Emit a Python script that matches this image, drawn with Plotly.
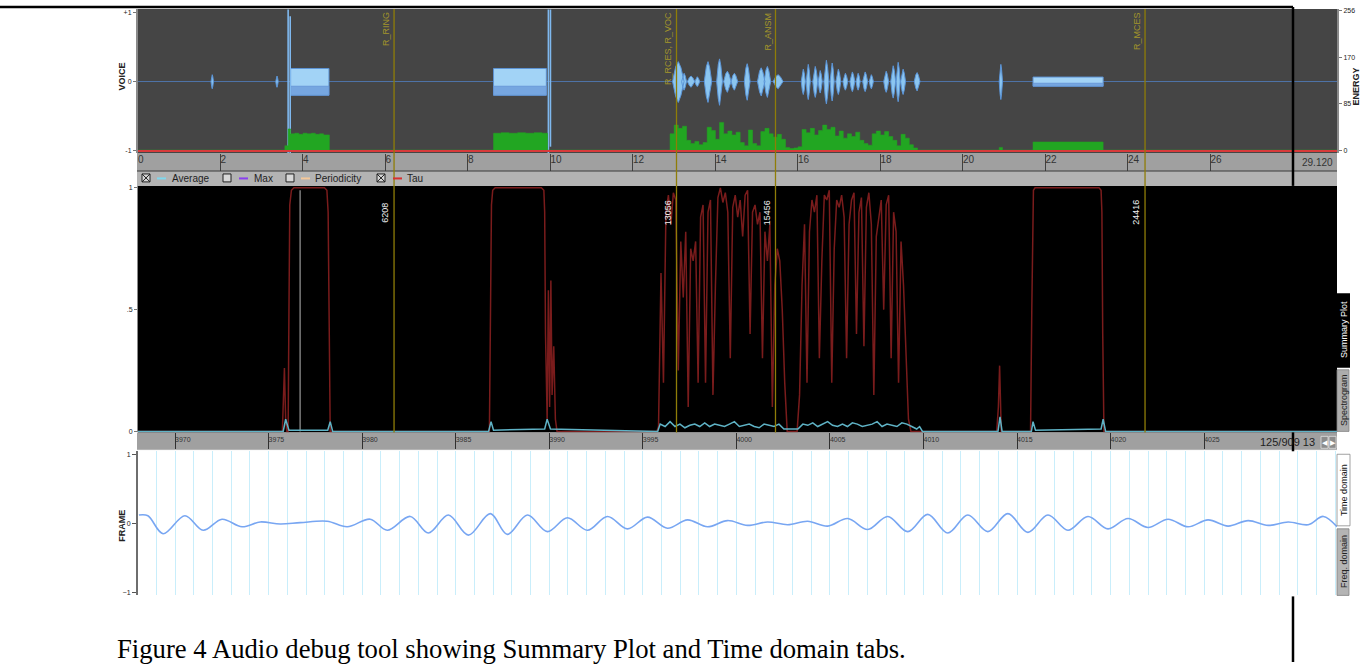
import plotly.graph_objects as go

W, H = 1367, 664
def PX(x): return x / W
def PY(y): return 1 - y / H

# ---------------- data ----------------
DURATION = 29.12
time_ticks = [0, 2, 4, 6, 8, 10, 12, 14, 16, 18, 20, 22, 24, 26]
frame_ticks = [3970, 3975, 3980, 3985, 3990, 3995, 4000, 4005, 4010, 4015, 4020, 4025]
frame_range = [3968.02, 4032.1]

marker_times = [6.208, 13.056, 15.456, 24.416]
marker_names = ["R_RING", "R_RCES, R_VOC", "R_ANSM", "R_MCES"]
marker_ids = ["6208", "13056", "15456", "24416"]

voice_ticks = [-1, 0, 1]
voice_tick_text = ["-1", "0", "+1"]
energy_ticks = [0, 85, 170, 256]
tau_ticks = [0, 0.5, 1]
tau_tick_text = ["0", ".5", "1"]
frame_y_ticks = [-1, 0, 1]

# voice: steady tones
tone_start = [3.70, 8.62, 21.70]
tone_end = [4.63, 9.90, 23.40]
tone_amp = [0.19, 0.19, 0.065]

# voice: clicks
spike_t = [3.64, 3.69, 9.95, 10.00]
spike_hi = [1.05, 0.95, 1.05, 1.05]
spike_lo = [-1.05, -1.05, -1.05, -0.95]

# voice: speech bursts (centre, half width, peak)
burst_t = [13.10, 13.24, 13.41, 13.56, 13.82, 14.10, 14.29, 14.46, 14.77, 15.11, 15.26, 15.52,
           16.13, 16.25, 16.42, 16.54, 16.69, 16.83, 16.98, 17.15, 17.32, 17.46, 17.63, 17.78,
           18.14, 18.31, 18.43, 18.55, 18.89, 20.92, 1.80, 3.37]
burst_hw = [0.14, 0.06, 0.09, 0.06, 0.09, 0.07, 0.09, 0.08, 0.07, 0.09, 0.08, 0.12,
            0.05, 0.05, 0.06, 0.05, 0.06, 0.05, 0.06, 0.06, 0.06, 0.05, 0.06, 0.05,
            0.06, 0.06, 0.05, 0.06, 0.07, 0.04, 0.03, 0.03]
burst_amp = [0.29, 0.12, 0.08, 0.07, 0.29, 0.33, 0.15, 0.12, 0.26, 0.20, 0.22, 0.10,
             0.18, 0.25, 0.22, 0.16, 0.31, 0.27, 0.18, 0.12, 0.14, 0.12, 0.14, 0.10,
             0.15, 0.23, 0.28, 0.18, 0.13, 0.25, 0.10, 0.08]

# energy (step series)
energy_t = [0.0, 3.56, 3.64, 3.70, 3.80, 3.90, 4.00, 4.10, 4.20, 4.30, 4.40, 4.50, 4.64,
            8.62, 8.80, 9.00, 9.20, 9.40, 9.60, 9.80, 9.93,
            12.9, 13.0, 13.1, 13.2, 13.3, 13.4, 13.5, 13.6, 13.7, 13.8, 13.9, 14.0, 14.1, 14.2,
            14.3, 14.4, 14.5, 14.6, 14.7, 14.8, 14.9, 15.0, 15.1, 15.2, 15.3, 15.4, 15.5, 15.6,
            15.7, 15.8, 15.9, 16.0, 16.1, 16.2, 16.3, 16.4, 16.5, 16.6, 16.7, 16.8, 16.9, 17.0,
            17.1, 17.2, 17.3, 17.4, 17.5, 17.6, 17.7, 17.8, 17.9, 18.0, 18.1, 18.2, 18.3, 18.4,
            18.5, 18.6, 18.7, 18.8, 18.9,
            20.88, 20.96, 21.70, 23.40, 29.12]
energy_v = [0, 8, 39, 30, 31, 29, 31, 30, 31, 29, 30, 28, 0,
            31, 32, 31, 32, 31, 32, 31, 0,
            30, 46, 40, 44, 18, 12, 16, 10, 14, 42, 36, 20, 51, 30,
            35, 28, 33, 14, 8, 37, 12, 8, 34, 40, 30, 24, 29, 20,
            5, 3, 4, 6, 38, 32, 40, 28, 36, 46, 38, 42, 26, 35,
            22, 30, 25, 33, 18, 12, 9, 30, 35, 28, 34, 25, 18, 8,
            29, 22, 10, 4, 0,
            5, 0, 15, 0, 0]

# summary plot: tau
tau_t = [0.0, 3.50, 3.55, 3.58, 3.61, 3.64, 3.66, 3.68, 3.72, 3.78, 4.52, 4.58, 4.61, 4.63, 4.66,
         8.52, 8.55, 8.57, 8.60, 8.66, 9.78, 9.84, 9.86, 9.88, 9.92, 9.95, 9.98, 10.01, 10.04, 10.08, 10.12, 10.16,
         12.58]
tau_v = [0.0, 0.0, 0.26, 0.05, 0.0, 0.0, 0.5, 0.93, 0.99, 1.0, 1.0, 0.99, 0.9, 0.4, 0.0,
         0.0, 0.5, 0.93, 0.99, 1.0, 1.0, 0.99, 0.9, 0.4, 0.05, 0.58, 0.1, 0.62, 0.15, 0.35, 0.05, 0.0,
         0.0]
speech1_start, speech_step = 12.62, 0.06
tau_speech1 = [0.02, 0.65, 0.2, 0.9, 0.97, 0.85, 0.98, 0.95, 0.25, 0.78, 0.55, 0.82, 0.1, 0.75,
               0.7, 0.78, 0.2, 0.88, 0.93, 0.2, 0.9, 0.95, 0.15, 0.6, 0.96, 1.0, 0.94, 0.98, 0.9,
               0.3, 0.92, 0.97, 0.88, 0.95, 0.8, 0.97, 0.99, 0.4, 0.9, 0.93, 0.85, 0.9, 0.3, 0.82,
               0.7, 0.85, 0.1, 0.6, 0.75, 0.7, 0.5, 0.2, 0.0]
speech2_start = 15.98
tau_speech2 = [0.0, 0.15, 0.6, 0.85, 0.2, 0.82, 0.95, 0.9, 0.97, 0.3, 0.7, 0.97, 0.95, 0.99,
               0.2, 0.75, 0.95, 0.92, 0.97, 0.88, 0.3, 0.85, 0.95, 0.98, 0.4, 0.9, 0.96, 0.35,
               0.92, 0.98, 0.85, 0.15, 0.8, 0.88, 0.95, 0.5, 0.93, 0.97, 0.3, 0.9, 0.82, 0.2,
               0.78, 0.6, 0.35, 0.05, 0.0]
tau_tail_t = [20.82, 20.86, 20.89, 20.93, 21.64, 21.67, 21.69, 21.71, 21.75, 21.80,
              23.30, 23.35, 23.37, 23.39, 23.42, 29.12]
tau_tail_v = [0.0, 0.1, 0.27, 0.0, 0.0, 0.5, 0.93, 0.99, 1.0, 1.0,
              1.0, 0.99, 0.9, 0.4, 0.0, 0.0]

# summary plot: average
avg_t = [0.0, 3.52, 3.58, 3.66, 4.60, 4.66, 4.72, 8.50, 8.56, 8.62, 9.86, 9.92, 10.0, 12.60]
avg_v = [0.0, 0.0, 0.05, 0.005, 0.005, 0.04, 0.0, 0.0, 0.04, 0.005, 0.01, 0.05, 0.01, 0.0]
avg1_start, avg_step = 12.66, 0.12
avg_speech1 = [0.03, 0.02, 0.04, 0.02, 0.03, 0.015, 0.025, 0.03, 0.02, 0.035, 0.02, 0.03, 0.025,
               0.02, 0.03, 0.04, 0.02, 0.025, 0.03, 0.02, 0.015, 0.03, 0.025, 0.02, 0.03, 0.01]
avg2_start = 16.0
avg_speech2 = [0.01, 0.03, 0.025, 0.035, 0.02, 0.03, 0.04, 0.025, 0.02, 0.03, 0.02, 0.035, 0.03,
               0.02, 0.025, 0.03, 0.04, 0.02, 0.03, 0.025, 0.02, 0.035, 0.03, 0.02, 0.01]
avg_tail_t = [18.95, 19.02, 20.85, 20.90, 20.95, 21.66, 21.70, 21.76, 23.35, 23.40, 23.46, 29.12]
avg_tail_v = [0.02, 0.0, 0.0, 0.06, 0.0, 0.0, 0.04, 0.005, 0.01, 0.05, 0.0, 0.0]
cursor_t = 3.93

# time-domain frame
frame_pos = [3968.07, 3968.55, 3969.36, 3970.53, 3971.50, 3972.51, 3973.58, 3974.55, 3975.62, 3976.69,
             3978.13, 3979.20, 3980.43, 3981.34, 3982.57, 3983.54, 3984.61, 3985.68, 3986.85, 3987.76,
             3988.83, 3989.90, 3990.97, 3992.04, 3993.11, 3994.18, 3995.25, 3996.32, 3997.39, 3998.46,
             3999.53, 4000.60, 4001.67, 4002.74, 4003.81, 4004.88, 4005.95, 4007.02, 4008.09, 4009.16,
             4010.23, 4011.30, 4012.37, 4013.44, 4014.51, 4015.58, 4016.65, 4017.72, 4018.79, 4019.86,
             4020.93, 4022.00, 4023.07, 4024.14, 4025.21, 4026.28, 4027.35, 4028.42, 4029.49, 4030.56,
             4031.37, 4032.10]
frame_val = [0.12, 0.11, -0.15, 0.11, -0.10, 0.06, -0.05, 0.02, -0.01, 0.01,
             0.03, -0.05, 0.06, -0.10, 0.10, -0.14, 0.12, -0.17, 0.14, -0.16,
             0.12, -0.12, 0.08, -0.10, 0.10, -0.08, 0.09, -0.07, 0.05, -0.05,
             0.04, -0.03, 0.02, -0.02, 0.03, -0.04, 0.07, -0.09, 0.10, -0.12,
             0.13, -0.14, 0.12, -0.12, 0.14, -0.13, 0.12, -0.10, 0.10, -0.08,
             0.07, -0.06, 0.06, -0.05, 0.05, -0.04, 0.04, -0.03, 0.02, -0.02,
             0.10, -0.05]

legend_names = ["Average", "Max", "Periodicity", "Tau"]
legend_colors = ["#7fd8ee", "#8a3ff0", "#f5c89a", "#d83030"]
legend_checked = [True, False, False, True]
tab_names = ["Summary Plot", "Spectrogram", "Time domain", "Freq. domain"]
frame_counter = "125/909 13"
duration_label = "29.120"
caption = "Figure 4 Audio debug tool showing Summary Plot and Time domain tabs."

# ---------------- figure ----------------
fig = go.Figure()
X0, X1 = PX(138), PX(1337)
TRANGE = [0, 29.07]

# voice baseline
fig.add_trace(go.Scatter(x=[0, DURATION], y=[0, 0], mode="lines",
                         line=dict(color="#4f74aa", width=1), xaxis="x", yaxis="y", hoverinfo="skip"))
# speech bursts as spindles
bx, by = [], []
for c, hw, a in zip(burst_t, burst_hw, burst_amp):
    bx += [c - hw, c - hw * 0.45, c, c + hw * 0.45, c + hw, c + hw * 0.45, c, c - hw * 0.45, c - hw, None]
    by += [0, a * 0.75, a, a * 0.7, 0, -a * 0.7, -a * 1.05, -a * 0.75, 0, None]
fig.add_trace(go.Scatter(x=bx, y=by, mode="lines", fill="toself", fillcolor="#8cc6f0",
                         line=dict(color="#5b95d8", width=1), xaxis="x", yaxis="y", hoverinfo="skip"))
# tones (light upper body, darker lower band)
tx, ty, lx, ly = [], [], [], []
for s, e, a in zip(tone_start, tone_end, tone_amp):
    tx += [s, s, e, e, s, None]
    ty += [-a * 1.05, a, a, -a * 1.05, -a * 1.05, None]
    lx += [s, s, e, e, s, None]
    ly += [-a * 1.05, -a * 0.35, -a * 0.35, -a * 1.05, -a * 1.05, None]
fig.add_trace(go.Scatter(x=tx, y=ty, mode="lines", fill="toself", fillcolor="#a2d3f6",
                         line=dict(color="#5e93d4", width=1), xaxis="x", yaxis="y", hoverinfo="skip"))
fig.add_trace(go.Scatter(x=lx, y=ly, mode="lines", fill="toself", fillcolor="#76a6e0",
                         line=dict(color="#5e8fd0", width=0.5), xaxis="x", yaxis="y", hoverinfo="skip"))
# spikes
sx, sy = [], []
for t, hi, lo in zip(spike_t, spike_hi, spike_lo):
    sx += [t, t, None]
    sy += [lo, hi, None]
fig.add_trace(go.Scatter(x=sx, y=sy, mode="lines", line=dict(color="#7fb8ee", width=1.6),
                         xaxis="x", yaxis="y", hoverinfo="skip"))
# energy
fig.add_trace(go.Scatter(x=energy_t, y=energy_v, mode="lines", line_shape="hv", fill="tozeroy",
                         fillcolor="#22a622", line=dict(color="#22a622", width=0.5),
                         xaxis="x", yaxis="y2", hoverinfo="skip"))
fig.add_trace(go.Scatter(x=[0, DURATION], y=[-1.5, -1.5], mode="lines",
                         line=dict(color="#d83a3a", width=2), xaxis="x", yaxis="y2", hoverinfo="skip"))

# tau
tau_x = list(tau_t) + [speech1_start + i * speech_step for i in range(len(tau_speech1))] \
    + [speech2_start + i * speech_step for i in range(len(tau_speech2))] + tau_tail_t
tau_y = list(tau_v) + tau_speech1 + tau_speech2 + tau_tail_v
avg_x = list(avg_t) + [avg1_start + i * avg_step for i in range(len(avg_speech1))] \
    + [avg2_start + i * avg_step for i in range(len(avg_speech2))] + avg_tail_t
avg_y = list(avg_v) + avg_speech1 + avg_speech2 + avg_tail_v
fig.add_trace(go.Scatter(x=[cursor_t, cursor_t], y=[0, 0.99], mode="lines",
                         line=dict(color="#b8b8b8", width=1), xaxis="x3", yaxis="y4", hoverinfo="skip"))
fig.add_trace(go.Scatter(x=tau_x, y=tau_y, mode="lines", line=dict(color="#7a1c1c", width=1.5),
                         xaxis="x3", yaxis="y4", hoverinfo="skip"))
fig.add_trace(go.Scatter(x=avg_x, y=avg_y, mode="lines", line=dict(color="#5fb3c6", width=1.5),
                         xaxis="x3", yaxis="y4", hoverinfo="skip"))

# frame waveform
fig.add_trace(go.Scatter(x=frame_pos, y=frame_val, mode="lines", line_shape="spline",
                         line=dict(color="#78a6f2", width=1.6), xaxis="x5", yaxis="y6", hoverinfo="skip"))

# invisible traces to host strip axes
fig.add_trace(go.Scatter(x=[None], y=[None], xaxis="x2", yaxis="y3", hoverinfo="skip"))
fig.add_trace(go.Scatter(x=[None], y=[None], xaxis="x4", yaxis="y5", hoverinfo="skip"))

shapes = []
def rect(x0, y0, x1, y1, fill, line_color=None, lw=0, layer="below"):
    shapes.append(dict(type="rect", xref="paper", yref="paper", x0=PX(x0), x1=PX(x1),
                       y0=PY(y1), y1=PY(y0), fillcolor=fill, layer=layer,
                       line=dict(color=line_color or fill, width=lw)))
def hline(x0, x1, y, color, w=1, layer="above"):
    shapes.append(dict(type="line", xref="paper", yref="paper", x0=PX(x0), x1=PX(x1),
                       y0=PY(y), y1=PY(y), line=dict(color=color, width=w), layer=layer))
def vline(x, y0, y1, color, w=1, layer="above"):
    shapes.append(dict(type="line", xref="paper", yref="paper", x0=PX(x), x1=PX(x),
                       y0=PY(y0), y1=PY(y1), line=dict(color=color, width=w), layer=layer))

# panel backgrounds
rect(138, 7, 1337, 152, "#454545")
rect(137, 152, 1337, 170, "#a0a0a0")
rect(137, 170, 1337, 185, "#b3b3b3")
rect(138, 185, 1337, 433, "#000000")
rect(137, 433, 1337, 451, "#a0a0a0")
hline(137, 1337, 170, "#3a3a3a", 1.2)
hline(137, 1337, 451, "#ffffff", 1)

# marker lines
for t in marker_times:
    shapes.append(dict(type="line", xref="x", yref="paper", x0=t, x1=t, y0=PY(433), y1=PY(7),
                       line=dict(color="#8f7d08", width=1.3), layer="above"))

# legend checkboxes and line samples
box_x = [142, 223, 286, 377]
line_x = [157, 239, 301, 393]
text_x = [170, 252, 313, 405]
for bxp, lxp, chk, col in zip(box_x, line_x, legend_checked, legend_colors):
    rect(bxp, 173, bxp + 8, 181, "#d8d8d8", "#202020", 1, layer="above")
    if chk:
        shapes.append(dict(type="line", xref="paper", yref="paper", x0=PX(bxp), x1=PX(bxp + 8),
                           y0=PY(173), y1=PY(181), line=dict(color="#202020", width=1)))
        shapes.append(dict(type="line", xref="paper", yref="paper", x0=PX(bxp), x1=PX(bxp + 8),
                           y0=PY(181), y1=PY(173), line=dict(color="#202020", width=1)))
    hline(lxp, lxp + 9, 177.5, col, 2)

# page border
hline(0, 1293, 5, "#000000", 2.5)
vline(1293, 5, 185, "#000000", 2.5)
vline(1293, 433, 452, "#000000", 2.5)
vline(1293, 598, 664, "#000000", 2.5)

# right tabs
rect(1337, 293, 1350, 368, "#000000", layer="above")
rect(1337, 370, 1349, 432, "#acacac", "#808080", 0.8, layer="above")
rect(1337, 455, 1350, 527, "#ffffff", "#8a8a8a", 0.8, layer="above")
rect(1337, 530, 1349, 597, "#b4b4b4", "#808080", 0.8, layer="above")
# nav buttons
rect(1321, 437, 1328, 449, "#8c8c8c", "#e0e0e0", 0.8, layer="above")
rect(1329, 437, 1336, 449, "#8c8c8c", "#e0e0e0", 0.8, layer="above")

ann = []
def text(x, y, s, size=9, color="#000000", angle=0, xanchor="center", yanchor="middle",
         family="Liberation Sans", xref="paper", xshift=0):
    ann.append(dict(x=x if xref != "paper" else PX(x), y=PY(y), xref=xref, yref="paper", text=s,
                    showarrow=False, textangle=angle, xanchor=xanchor, yanchor=yanchor, xshift=xshift,
                    font=dict(size=size, color=color, family=family)))

for t, name, mid in zip(marker_times, marker_names, marker_ids):
    text(t, 8, name, 9, "#a3952a", -90, "right", "top", xref="x", xshift=-1)
    text(t, 212, mid, 9, "#f0f0f0", -90, "right", "middle", xref="x", xshift=-2)

for name, xp in zip(legend_names, text_x):
    text(xp, 177.5, name, 10, "#1e1e1e", 0, "left")

text(122, 75, "<b>VOICE</b>", 9, "#222222", -90)
text(122, 527, "<b>FRAME</b>", 9, "#222222", -90)
text(1356, 85, "<b>ENERGY</b>", 9, "#222222", -90)
text(1335, 161.5, duration_label, 10, "#333333", 0, "right")
text(1317, 442.5, frame_counter, 11, "#1e1e1e", 0, "right")
text(1324.5, 443, "◀", 7, "#ffffff")
text(1332.5, 443, "▶", 7, "#ffffff")
text(1344, 330, tab_names[0], 9, "#ffffff", -90)
text(1343.5, 401, tab_names[1], 9, "#222222", -90)
text(1344, 491, tab_names[2], 9, "#111111", -90)
text(1343.5, 563, tab_names[3], 9, "#222222", -90)
text(115, 651, caption, 26.7, "#000000", 0, "left", family="Liberation Serif")

axis_common = dict(showgrid=False, zeroline=False)
fig.update_layout(
    width=W, height=H, autosize=False,
    margin=dict(l=0, r=0, t=0, b=0),
    paper_bgcolor="#ffffff", plot_bgcolor="rgba(0,0,0,0)",
    showlegend=False,
    font=dict(family="Liberation Sans", color="#222222"),
    xaxis=dict(domain=[X0, X1], range=TRANGE, anchor="y", visible=False, **axis_common),
    yaxis=dict(domain=[PY(152), PY(7)], range=[-1.043, 1.058], tickvals=voice_ticks,
               ticktext=voice_tick_text, ticks="outside", ticklen=3, tickcolor="#777777",
               showline=True, linecolor="#8a8a8a", linewidth=2, tickfont=dict(size=7, color="#222"),
               anchor="x", **axis_common),
    yaxis2=dict(overlaying="y", side="right", range=[-5.5, 259.7], tickvals=energy_ticks,
                ticks="outside", ticklen=3, tickcolor="#777777", showline=True, linecolor="#8a8a8a",
                linewidth=2, tickfont=dict(size=7, color="#222"), anchor="x", **axis_common),
    xaxis2=dict(domain=[X0, X1], range=TRANGE, anchor="y3", tickvals=time_ticks,
                showgrid=True, gridcolor="#404040", gridwidth=1, zeroline=False,
                ticklabelposition="inside right", ticks="", tickfont=dict(size=10, color="#333333")),
    yaxis3=dict(domain=[PY(170), PY(153)], range=[0, 1], visible=False, anchor="x2"),
    xaxis3=dict(domain=[X0, X1], range=TRANGE, anchor="y4", visible=False, **axis_common),
    yaxis4=dict(domain=[PY(433), PY(185)], range=[-0.004, 1.008], tickvals=tau_ticks,
                ticktext=tau_tick_text, ticks="outside", ticklen=3, tickcolor="#777777",
                showline=True, linecolor="#8a8a8a", linewidth=1, tickfont=dict(size=7, color="#222"),
                anchor="x3", **axis_common),
    xaxis4=dict(domain=[X0, X1], range=frame_range, anchor="y5", tickvals=frame_ticks,
                showgrid=True, gridcolor="#303030", gridwidth=1, zeroline=False,
                ticklabelposition="inside right", ticks="", tickfont=dict(size=7, color="#333333")),
    yaxis5=dict(domain=[PY(450), PY(434)], range=[0, 1], visible=False, anchor="x4"),
    xaxis5=dict(domain=[X0, X1], range=frame_range, anchor="y6", showgrid=True, dtick=1,
                tick0=3968, gridcolor="#c9eefb", gridwidth=1, showticklabels=False, ticks="",
                zeroline=False),
    yaxis6=dict(domain=[PY(597), PY(452)], range=[-1.043, 1.043], tickvals=frame_y_ticks,
                ticks="outside", ticklen=4, tickcolor="#555555", showline=True, linecolor="#6e6e6e",
                linewidth=2, tickfont=dict(size=7, color="#222"), anchor="x5", **axis_common),
    shapes=shapes,
    annotations=ann,
)

fig.write_html("out.html", config={"displayModeBar": False},
               post_script="document.body.style.margin='0';document.body.style.overflow='hidden';")
